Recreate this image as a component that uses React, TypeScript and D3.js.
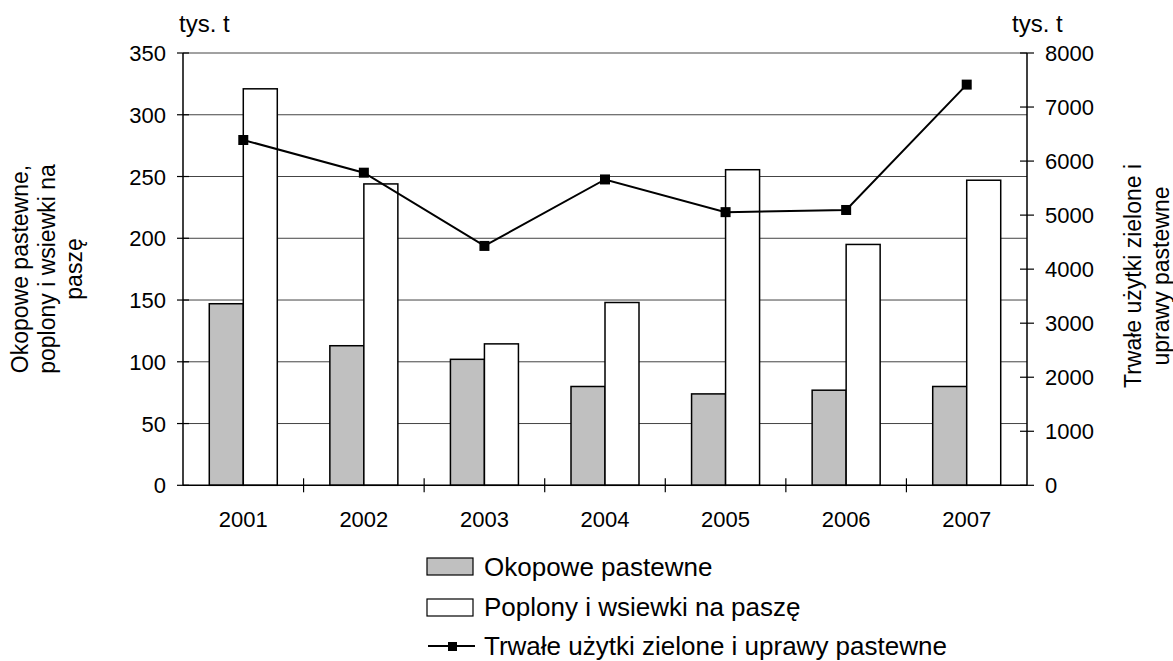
import React from "react";
import * as d3 from "d3";

const years = ["2001", "2002", "2003", "2004", "2005", "2006", "2007"];
const okopowe = [147, 113, 102, 80, 74, 77, 80];
const poplony = [321, 244, 114.5, 148, 255.5, 195, 247];
const trwale = [6390, 5785, 4430, 5660, 5055, 5095, 7415];
const leftTicks = [0, 50, 100, 150, 200, 250, 300, 350];
const rightTicks = [0, 1000, 2000, 3000, 4000, 5000, 6000, 7000, 8000];
const seriesNames = ["Okopowe pastewne", "Poplony i wsiewki na paszę", "Trwałe użytki zielone i uprawy pastewne"];
const leftTitle = ["Okopowe pastewne,", "poplony i wsiewki na", "paszę"];
const rightTitle = ["Trwałe użytki zielone i", "uprawy pastewne"];
const unit = "tys. t";

const W = 1173, H = 661;
const X0 = 183, X1 = 1027, Y0 = 53, Y1 = 485.3;
const FONT = "'Liberation Sans', Arial, sans-serif";

export default function App() {
  const x = d3.scaleBand<string>().domain(years).range([X0, X1]).padding(0);
  const sub = d3.scaleBand<string>().domain(["a", "b"]).range([0, x.bandwidth()]).paddingInner(0).paddingOuter(0.773);
  const yL = d3.scaleLinear().domain([0, 350]).range([Y1, Y0]);
  const yR = d3.scaleLinear().domain([0, 8000]).range([Y1, Y0]);
  const cx = (y: string) => (x(y) as number) + x.bandwidth() / 2;
  const line = d3.line<number>().x((_, i) => cx(years[i])).y((d) => yR(d));
  const ms = 10;

  return (
    <svg width={W} height={H} style={{ position: "absolute", left: 0, top: 0, background: "#fff" }} fontFamily={FONT}>
      {leftTicks.filter((t) => t > 0).map((t) => (
        <line key={"g" + t} x1={X0} x2={X1} y1={yL(t)} y2={yL(t)} stroke="#444" strokeWidth={1} />
      ))}
      {years.map((yr, i) => (
        <g key={"b" + yr}>
          <rect x={(x(yr) as number) + (sub("a") as number)} y={yL(okopowe[i])} width={sub.bandwidth()} height={Y1 - yL(okopowe[i])} fill="#C0C0C0" stroke="#000" strokeWidth={1.5} />
          <rect x={(x(yr) as number) + (sub("b") as number)} y={yL(poplony[i])} width={sub.bandwidth()} height={Y1 - yL(poplony[i])} fill="#fff" stroke="#000" strokeWidth={1.5} />
        </g>
      ))}
      <line x1={X0} x2={X0} y1={Y0} y2={Y1} stroke="#000" strokeWidth={1.5} />
      <line x1={X1} x2={X1} y1={Y0} y2={Y1} stroke="#000" strokeWidth={1.5} />
      <line x1={X0} x2={X1} y1={Y1} y2={Y1} stroke="#000" strokeWidth={1.5} />
      {leftTicks.map((t) => (
        <g key={"lt" + t}>
          <line x1={X0 - 6} x2={X0 + 6} y1={yL(t)} y2={yL(t)} stroke="#000" strokeWidth={1.2} />
          <text x={166} y={yL(t) + 8} textAnchor="end" fontSize={22} fill="#000">{t}</text>
        </g>
      ))}
      {rightTicks.map((t) => (
        <g key={"rt" + t}>
          <line x1={X1 - 7} x2={X1 + 7} y1={yR(t)} y2={yR(t)} stroke="#000" strokeWidth={1.2} />
          <text x={1045} y={yR(t) + 8} textAnchor="start" fontSize={22} fill="#000">{t}</text>
        </g>
      ))}
      {years.map((yr, i) => (
        <g key={"xt" + yr}>
          {i > 0 && <line x1={x(yr) as number} x2={x(yr) as number} y1={Y1 - 7} y2={Y1 + 7} stroke="#000" strokeWidth={1.2} />}
          <text x={cx(yr)} y={527} textAnchor="middle" fontSize={22} fill="#000">{yr}</text>
        </g>
      ))}
      <path d={line(trwale) || ""} fill="none" stroke="#000" strokeWidth={2} />
      {trwale.map((v, i) => (
        <rect key={"m" + i} x={cx(years[i]) - ms / 2} y={yR(v) - ms / 2} width={ms} height={ms} fill="#000" />
      ))}
      <text x={179} y={32} fontSize={24} fill="#000">{unit}</text>
      <text x={1012} y={32} fontSize={24} fill="#000">{unit}</text>
      {leftTitle.map((s, i) => (
        <text key={"ltt" + i} transform={`translate(${28 + i * 27},269) rotate(-90)`} textAnchor="middle" fontSize={23} fill="#000">{s}</text>
      ))}
      {rightTitle.map((s, i) => (
        <text key={"rtt" + i} transform={`translate(${1141 + i * 28},276) rotate(-90)`} textAnchor="middle" fontSize={23} fill="#000">{s}</text>
      ))}
      <rect x={427} y={558} width={46} height={17} fill="#C0C0C0" stroke="#000" strokeWidth={1.2} />
      <text x={484} y={576} fontSize={26} fill="#000">{seriesNames[0]}</text>
      <rect x={427} y={599} width={46} height={17} fill="#fff" stroke="#000" strokeWidth={1.2} />
      <text x={484} y={616} fontSize={26} fill="#000">{seriesNames[1]}</text>
      <line x1={428} x2={475} y1={646} y2={646} stroke="#000" strokeWidth={2} />
      <rect x={448} y={642} width={9} height={9} fill="#000" />
      <text x={484} y={655} fontSize={26} fill="#000">{seriesNames[2]}</text>
    </svg>
  );
}
